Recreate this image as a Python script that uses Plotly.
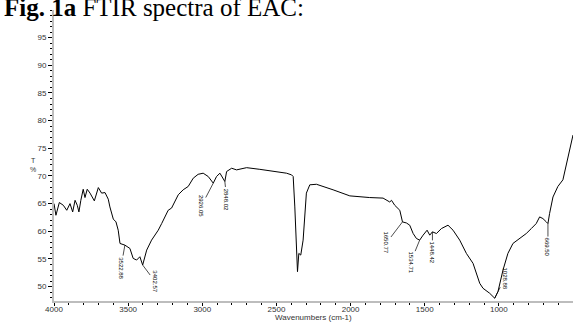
import plotly.graph_objects as go

# Spectrum data (wavenumber cm-1, %T)
wavenumber = [4000, 3987, 3964, 3937, 3914, 3892, 3874, 3858, 3843, 3832, 3819, 3803,
              3791, 3776, 3757, 3728, 3701, 3679, 3656, 3634, 3623, 3600, 3582, 3567,
              3555, 3522, 3488, 3466, 3443, 3421, 3402, 3375, 3342, 3297, 3274, 3230,
              3207, 3162, 3129, 3095, 3061, 3028, 2994, 2960, 2926, 2904, 2881, 2848,
              2836, 2802, 2769, 2701, 2612, 2522, 2432, 2398, 2387, 2376, 2364, 2358,
              2349, 2336, 2320, 2298, 2275, 2230, 2118, 2005, 1871, 1781, 1736, 1724,
              1702, 1668, 1650, 1623, 1601, 1578, 1556, 1534, 1511, 1484, 1466, 1448,
              1421, 1387, 1343, 1309, 1264, 1219, 1174, 1129, 1107, 1062, 1028, 1006,
              972, 939, 905, 860, 815, 781, 748, 725, 703, 680, 669, 658, 635, 602,
              568, 500]
transmittance = [65.0, 62.9, 65.2, 64.7, 63.8, 65.0, 63.5, 65.6, 64.7, 63.5, 65.6, 67.6,
                 66.1, 67.6, 66.9, 65.5, 67.9, 66.9, 67.0, 65.8, 64.4, 62.2, 61.7, 60.2,
                 57.8, 57.5, 56.9, 55.1, 54.8, 55.4, 53.9, 56.6, 58.4, 60.2, 61.4, 63.8,
                 64.2, 66.6, 67.5, 68.1, 69.6, 70.3, 70.5, 69.9, 68.7, 69.9, 70.5, 69.0,
                 70.8, 71.4, 71.1, 71.5, 71.2, 70.8, 70.5, 70.2, 69.9, 64.4, 56.6, 52.7,
                 56.0, 55.7, 58.4, 66.9, 68.4, 68.5, 67.5, 66.4, 66.1, 66.0, 65.3, 65.6,
                 64.7, 63.8, 61.7, 61.5, 61.1, 59.6, 58.7, 58.4, 59.3, 60.2, 59.3, 59.9,
                 59.6, 60.5, 61.1, 60.2, 58.4, 56.0, 54.2, 50.6, 49.7, 48.8, 47.9, 49.1,
                 53.0, 56.0, 57.8, 58.7, 59.6, 60.5, 61.4, 62.6, 62.3, 61.7, 61.4, 63.2,
                 66.2, 68.1, 69.3, 77.4]

# Peak labels
peak_wn = [3522, 3402, 2926, 2848, 1650, 1534, 1448, 1028, 669]
peak_t = [57.5, 53.9, 68.7, 69.0, 61.7, 58.4, 59.9, 47.9, 61.4]
peak_text = ["3522.88", "3402.57", "2926.05", "2848.02", "1650.77",
             "1534.71", "1448.42", "1028.88", "669.50"]
label_dx = [-4, 12, -12, 2, -16, -9, 0, 10, 0]
label_dy = [23, 16, 23, 18, 21, 22, 21, -20, 24]

x_ticks = [4000, 3500, 3000, 2500, 2000, 1500, 1000, 500]
y_ticks = [50, 55, 60, 65, 70, 75, 80, 85, 90, 95]

fig = go.Figure()
fig.add_trace(go.Scatter(x=wavenumber, y=transmittance, mode="lines",
                         line=dict(color="black", width=1), showlegend=False,
                         hoverinfo="skip"))

for wn, t, txt, dx, dy in zip(peak_wn, peak_t, peak_text, label_dx, label_dy):
    fig.add_annotation(x=wn, y=t, text=txt, textangle=90, showarrow=True,
                       arrowhead=0, arrowwidth=0.7, arrowcolor="black",
                       ax=dx, ay=dy, font=dict(family="Liberation Sans", size=6, color="black"))

fig.add_annotation(xref="paper", yref="paper", x=-0.100, y=0.956, xanchor="left",
                   yanchor="bottom", showarrow=False,
                   text="<b>Fig. 1a</b> FTIR spectra of EAC:",
                   font=dict(family="Liberation Serif", size=25, color="black"))
fig.add_annotation(xref="paper", yref="paper", x=-0.040, y=0.467, xanchor="center",
                   yanchor="middle", showarrow=False, text="T<br>%",
                   font=dict(family="Liberation Sans", size=7, color="#333"))
fig.add_annotation(xref="paper", yref="paper", x=0.5, y=-0.057, xanchor="center",
                   yanchor="middle", showarrow=False, text="Wavenumbers (cm-1)",
                   font=dict(family="Liberation Sans", size=8, color="#333"))

fig.update_layout(
    width=573, height=327,
    margin=dict(l=54, r=0, t=10, b=26),
    paper_bgcolor="white", plot_bgcolor="white",
    xaxis=dict(range=[4000, 500], tickvals=x_ticks, ticktext=[str(v) for v in x_ticks],
               showgrid=False, zeroline=False, showline=True, linecolor="#bdbdbd",
               linewidth=2, ticks="outside", ticklen=3, tickcolor="black", tickwidth=1,
               automargin=False, ticklabelstandoff=-4,
               minor=dict(dtick=100, tick0=0, ticks="outside", ticklen=2,
                          tickcolor="black", showgrid=False),
               tickfont=dict(family="Liberation Sans", size=8, color="#333")),
    yaxis=dict(range=[47.4, 100], tickvals=y_ticks, showgrid=False, zeroline=False,
               showline=True, linecolor="#bdbdbd", linewidth=2, ticks="outside",
               ticklen=4, tickcolor="black", tickwidth=1, automargin=False,
               minor=dict(dtick=1, tick0=0, ticks="outside", ticklen=2,
                          tickcolor="black", showgrid=False),
               tickfont=dict(family="Liberation Sans", size=8, color="#333")),
)

fig.write_html("out.html", config={"displayModeBar": False},
               post_script="document.body.style.margin='0';")
